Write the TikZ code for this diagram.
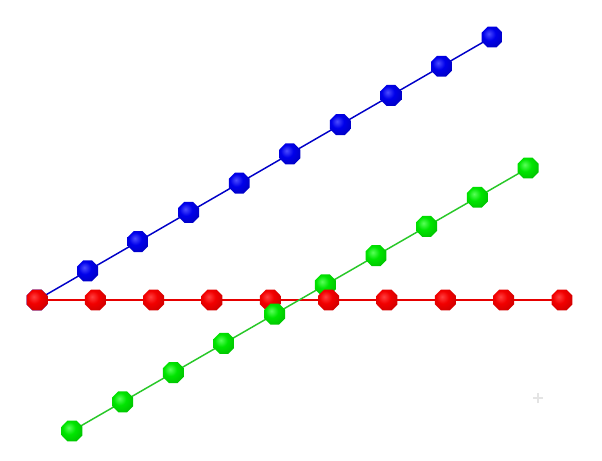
\documentclass[tikz,border=0pt]{standalone}
\usetikzlibrary{shapes.geometric}
\definecolor{linered}{RGB}{230,0,0}
\definecolor{lineblue}{RGB}{0,0,200}
\definecolor{linegreen}{RGB}{40,200,40}
\definecolor{plusgray}{RGB}{228,228,228}
\pgfdeclareradialshading{redsphere}{\pgfpoint{-8bp}{8bp}}{%
  rgb(0bp)=(1,0.25,0.25);
  rgb(15bp)=(0.95,0,0);
  rgb(35bp)=(0.8,0,0);
  rgb(50bp)=(0.55,0,0);
  rgb(60bp)=(0.3,0,0);
  rgb(100bp)=(0.3,0,0)}
\pgfdeclareradialshading{bluesphere}{\pgfpoint{-8bp}{8bp}}{%
  rgb(0bp)=(0.3,0.3,1);
  rgb(15bp)=(0,0,0.92);
  rgb(35bp)=(0,0,0.75);
  rgb(50bp)=(0,0,0.5);
  rgb(60bp)=(0,0,0.28);
  rgb(100bp)=(0,0,0.28)}
\pgfdeclareradialshading{greensphere}{\pgfpoint{-8bp}{8bp}}{%
  rgb(0bp)=(0.35,1,0.35);
  rgb(15bp)=(0,0.9,0);
  rgb(35bp)=(0,0.75,0);
  rgb(50bp)=(0,0.5,0);
  rgb(60bp)=(0,0.28,0);
  rgb(100bp)=(0,0.28,0)}
\tikzset{
  atom/.style={regular polygon, regular polygon sides=8, minimum size=17pt, inner sep=0pt},
  redatom/.style={atom, shading=redsphere},
  blueatom/.style={atom, shading=bluesphere},
  greenatom/.style={atom, shading=greensphere},
  bond/.style={line width=1.1pt}
}
\begin{document}
\begin{tikzpicture}[x=0.75pt,y=-0.75pt]
\useasboundingbox[fill=white] (0,0) rectangle (602,460);
% coordinates
\foreach \i in {0,...,9} {
  \coordinate (rc\i) at ({37+\i*58.33},300);
  \coordinate (bc\i) at ({37+\i*50.56},{300-\i*29.22});
  \coordinate (gc\i) at ({72+\i*50.67},{431-\i*29.22});
}
% bonds
\draw[bond, linered] (rc0) -- (rc9);
\draw[bond, lineblue] (bc0) -- (bc9);
\draw[bond, linegreen] (gc0) -- (gc9);
% blue atoms
\foreach \i in {0,...,9} { \node[blueatom] (b\i) at (bc\i) {}; }
% red atoms first half
\foreach \i in {0,...,4} { \node[redatom] (r\i) at (rc\i) {}; }
% green atoms first part
\foreach \i in {0,...,5} { \node[greenatom] (g\i) at (gc\i) {}; }
% red atoms second half
\foreach \i in {5,...,9} { \node[redatom] (r\i) at (rc\i) {}; }
% green atoms rest
\foreach \i in {6,...,9} { \node[greenatom] (g\i) at (gc\i) {}; }
% small cross
\coordinate (pc) at (538,398);
\draw[plusgray, line width=0.9pt] ([xshift=-3.75pt]pc) -- ([xshift=3.75pt]pc);
\draw[plusgray, line width=0.9pt] ([yshift=-3.75pt]pc) -- ([yshift=3.75pt]pc);
\end{tikzpicture}
\end{document}
